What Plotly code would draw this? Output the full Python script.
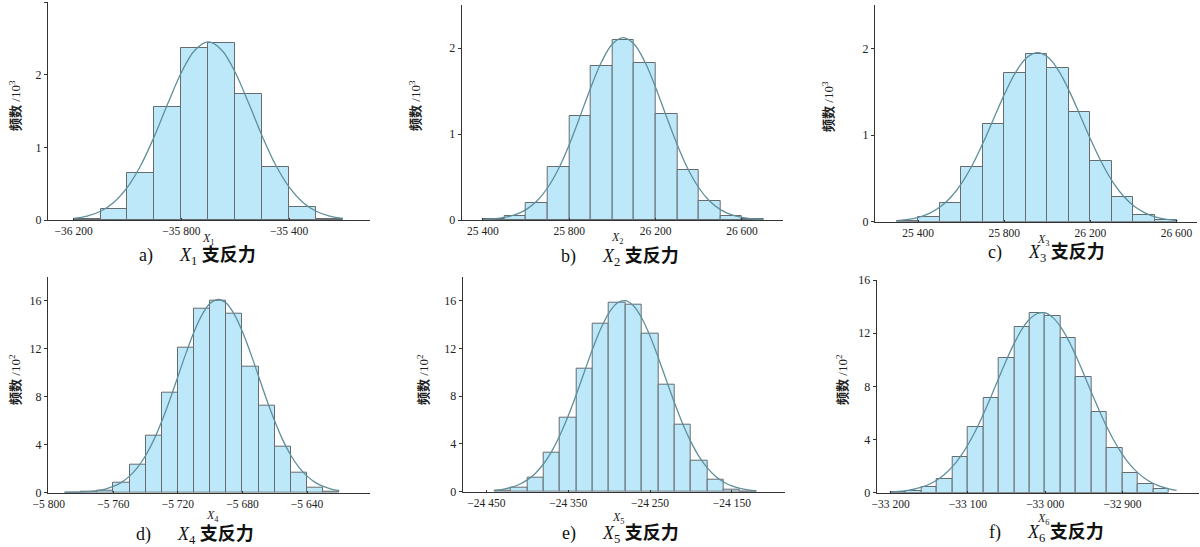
import plotly.graph_objects as go

# ---------------- data (counts per bin; a-c in 10^3, d-f in 10^2) ----------------
x1_bin_left, x1_bin_width = -36200, 100
x1_counts = [0.015, 0.15, 0.645, 1.55, 2.37, 2.43, 1.74, 0.73, 0.18, 0.02]
x1_fit_x = list(range(-36200, -35199, 50))
x1_fit_y = [0.022, 0.054, 0.121, 0.245, 0.451, 0.756, 1.154, 1.605, 2.03, 2.337, 2.45,
            2.337, 2.03, 1.605, 1.154, 0.756, 0.451, 0.245, 0.121, 0.054, 0.022]

x2_bin_left, x2_bin_width = 25400, 100
x2_counts = [0.006, 0.05, 0.2, 0.62, 1.21, 1.79, 2.09, 1.82, 1.23, 0.58, 0.22, 0.045, 0.008]
x2_fit_x = list(range(25400, 26701, 50))
x2_fit_y = [0.0054, 0.013, 0.0293, 0.0617, 0.121, 0.22, 0.375, 0.593, 0.876, 1.204, 1.542,
            1.84, 2.046, 2.12, 2.046, 1.84, 1.542, 1.204, 0.876, 0.593, 0.375, 0.22, 0.121,
            0.0617, 0.0293, 0.013, 0.0054]

x3_bin_left, x3_bin_width = 25300, 100
x3_counts = [0.01, 0.05, 0.22, 0.63, 1.13, 1.71, 1.94, 1.77, 1.26, 0.70, 0.29, 0.08, 0.02]
x3_fit_x = list(range(25305, 26606, 50))
x3_fit_y = [0.0128, 0.0269, 0.0533, 0.0997, 0.175, 0.291, 0.454, 0.668, 0.927, 1.212, 1.492,
            1.731, 1.893, 1.95, 1.893, 1.731, 1.492, 1.212, 0.927, 0.668, 0.454, 0.291, 0.175,
            0.0997, 0.0533, 0.0269, 0.0128]

x4_bin_left, x4_bin_width = -5790, 10
x4_counts = [0.01, 0.05, 0.2, 0.82, 2.3, 4.75, 8.35, 12.06, 15.3, 16.0, 14.95, 10.5, 7.25,
             3.8, 1.7, 0.38, 0.08]
x4_fit_x = list(range(-5790, -5619, 5))
x4_fit_y = [0.0105, 0.0222, 0.0452, 0.0886, 0.166, 0.300, 0.519, 0.863, 1.38, 2.11, 3.10,
            4.38, 5.95, 7.75, 9.69, 11.63, 13.41, 14.84, 15.78, 16.1, 15.78, 14.84, 13.41,
            11.63, 9.69, 7.75, 5.95, 4.38, 3.10, 2.11, 1.38, 0.863, 0.519, 0.300, 0.166]

x5_bin_left, x5_bin_width = -24440, 20
x5_counts = [0.05, 0.3, 1.2, 3.25, 6.2, 10.3, 14.1, 15.85, 15.65, 13.2, 8.95, 5.6, 2.6, 1.0,
             0.18, 0.04]
x5_fit_x = list(range(-24440, -24119, 10))
x5_fit_y = [0.109, 0.200, 0.355, 0.603, 0.987, 1.55, 2.34, 3.40, 4.74, 6.35, 8.16, 10.09,
            11.99, 13.68, 15.00, 15.80, 15.99, 15.55, 14.52, 13.04, 11.24, 9.32, 7.42, 5.67,
            4.17, 2.94, 2.00, 1.30, 0.816, 0.491, 0.284, 0.158, 0.084]

x6_bin_left, x6_bin_width = -33200, 20
x6_counts = [0.03, 0.12, 0.4, 1.0, 2.65, 4.95, 7.1, 10.1, 12.5, 13.5, 13.3, 11.6, 8.7, 6.1,
             3.4, 1.5, 0.62, 0.25]
x6_fit_x = list(range(-33200, -32829, 10))
x6_fit_y = [0.0543, 0.094, 0.158, 0.259, 0.411, 0.634, 0.951, 1.385, 1.961, 2.698, 3.606,
            4.684, 5.908, 7.245, 8.635, 9.998, 11.25, 12.30, 13.06, 13.48, 13.52, 13.17,
            12.47, 11.48, 10.26, 8.91, 7.52, 6.17, 4.92, 3.81, 2.87, 2.09, 1.49, 1.03,
            0.689, 0.450, 0.285, 0.175]

x_tickvals = {
    1: [-36200, -35800, -35400],
    2: [25400, 25800, 26200, 26600],
    3: [25400, 25800, 26200, 26600],
    4: [-5800, -5760, -5720, -5680, -5640],
    5: [-24450, -24350, -24250, -24150],
    6: [-33200, -33100, -33000, -32900],
}
x_ticktext = {
    1: ["−36 200", "−35 800", "−35 400"],
    2: ["25 400", "25 800", "26 200", "26 600"],
    3: ["25 400", "25 800", "26 200", "26 600"],
    4: ["−5 800", "−5 760", "−5 720", "−5 680", "−5 640"],
    5: ["−24 450", "−24 350", "−24 250", "−24 150"],
    6: ["−33 200", "−33 100", "−33 000", "−32 900"],
}
y_tickvals = {1: [0, 1, 2, 3], 2: [0, 1, 2], 3: [0, 1, 2],
              4: [0, 4, 8, 12, 16], 5: [0, 4, 8, 12, 16], 6: [0, 4, 8, 12, 16]}
y_units = {1: "3", 2: "3", 3: "3", 4: "2", 5: "2", 6: "2"}
captions = {1: "a)", 2: "b)", 3: "c)", 4: "d)", 5: "e)", 6: "f)"}

panels = {
    1: (x1_bin_left, x1_bin_width, x1_counts, x1_fit_x, x1_fit_y),
    2: (x2_bin_left, x2_bin_width, x2_counts, x2_fit_x, x2_fit_y),
    3: (x3_bin_left, x3_bin_width, x3_counts, x3_fit_x, x3_fit_y),
    4: (x4_bin_left, x4_bin_width, x4_counts, x4_fit_x, x4_fit_y),
    5: (x5_bin_left, x5_bin_width, x5_counts, x5_fit_x, x5_fit_y),
    6: (x6_bin_left, x6_bin_width, x6_counts, x6_fit_x, x6_fit_y),
}

# ---------------- layout geometry (pixels) ----------------
W, H = 1200, 547
geom = {  # x0, x1, ytop, ybottom (px), xrange, yrange
    1: (48, 370, 2, 220, [-36295, -35100], [0, 3]),
    2: (461.7, 783, 5, 220, [25302, 26790], [0, 2.5]),
    3: (875, 1197, 5, 221.7, [25200, 26695], [0, 2.5]),
    4: (48, 370, 276.7, 492.7, [-5800.5, -5601], [0, 18]),
    5: (462.7, 785, 276.7, 491.7, [-24479, -24085], [0, 18]),
    6: (876.7, 1199, 280, 492.7, [-33218, -32801], [0, 16]),
}
ytitle_pos = {1: (15, 106), 2: (415, 106), 3: (828, 106), 4: (15, 380), 5: (423, 380), 6: (842, 380)}
xtitle_pos = {1: (208, 239), 2: (617, 238), 3: (1043, 240), 4: (212, 516), 5: (618, 518), 6: (1043, 519)}
cap_pos = {1: (197, 256), 2: (620, 257), 3: (1046, 254), 4: (195, 535), 5: (620, 534), 6: (1046, 533)}

BAR_FILL = "#bde8fa"
BAR_LINE = "#666b6e"
CURVE = "#5f8f9c"
AXIS = "#333333"
SERIF = "Liberation Serif, Times New Roman, serif"
CJK = "Liberation Serif, Noto Sans CJK SC, serif"

fig = go.Figure()
annotations = []
for i in range(1, 7):
    left, width, counts, fx, fy = panels[i]
    centers = [left + width * (k + 0.5) for k in range(len(counts))]
    xa = "x" if i == 1 else f"x{i}"
    ya = "y" if i == 1 else f"y{i}"
    fig.add_trace(go.Bar(x=centers, y=counts, width=width, xaxis=xa, yaxis=ya,
                         marker=dict(color=BAR_FILL, line=dict(color=BAR_LINE, width=1)),
                         showlegend=False, hoverinfo="skip"))
    fig.add_trace(go.Scatter(x=fx, y=fy, mode="lines", xaxis=xa, yaxis=ya,
                             line=dict(color=CURVE, width=1.3, shape="spline"),
                             showlegend=False, hoverinfo="skip"))
    x0, x1, yt, yb, xr, yr = geom[i]
    xkey = "xaxis" if i == 1 else f"xaxis{i}"
    ykey = "yaxis" if i == 1 else f"yaxis{i}"
    fig.update_layout(**{
        xkey: dict(domain=[x0 / W, x1 / W], range=xr, anchor=ya, showgrid=False,
                   zeroline=False, showline=True, linecolor=AXIS, linewidth=1,
                   automargin=False,
                   ticks="inside", ticklen=2, tickcolor=AXIS,
                   tickvals=x_tickvals[i], ticktext=x_ticktext[i],
                   tickfont=dict(family=SERIF, size=11.5, color="#222")),
        ykey: dict(domain=[1 - yb / H, 1 - yt / H], range=yr, anchor=xa, showgrid=False,
                   zeroline=False, showline=True, linecolor=AXIS, linewidth=1,
                   automargin=False,
                   ticks="outside", ticklen=3, tickcolor=AXIS,
                   tickvals=y_tickvals[i],
                   tickfont=dict(family=SERIF, size=12, color="#222")),
    })
    common = dict(xref="paper", yref="paper", xanchor="center", yanchor="middle",
                  showarrow=False)
    px, py = ytitle_pos[i]
    annotations.append(dict(x=px / W, y=1 - py / H,
                            text=f"<b>频数</b> /10<sup>{y_units[i]}</sup>", textangle=-90,
                            font=dict(family=CJK, size=13, color="#222"), **common))
    px, py = xtitle_pos[i]
    annotations.append(dict(x=px / W, y=1 - py / H,
                            text=f"<i>X</i><sub>{i}</sub>",
                            font=dict(family=SERIF, size=12, color="#222"), **common))
    px, py = cap_pos[i]
    annotations.append(dict(x=px / W, y=1 - py / H,
                            text=f"{captions[i]}&nbsp;&nbsp;&nbsp;&nbsp;&nbsp;&nbsp;<i>X</i><sub>{i}</sub> <b>支反力</b>",
                            font=dict(family=CJK, size=18, color="#111"), **common))

fig.update_layout(width=W, height=H,
                  margin=dict(l=0, r=0, t=0, b=0, pad=0, autoexpand=False),
                  paper_bgcolor="white", plot_bgcolor="white", bargap=0,
                  annotations=annotations)
fig.write_html("out.html")
